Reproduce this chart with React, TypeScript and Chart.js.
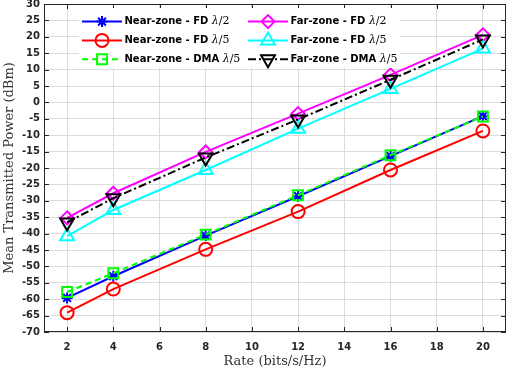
import React, { useEffect, useRef } from 'react';
import { Chart, registerables } from 'chart.js';

Chart.register(...registerables);

// ---- data ----
const rates = [2, 4, 8, 12, 16, 20];
const nearFDHalf = [-59.6, -53, -40.6, -28.6, -16.4, -4.2];
const nearFDFifth = [-64.1, -56.9, -44.8, -33.3, -20.6, -8.7];
const nearDMAFifth = [-57.8, -52.1, -40.3, -28.3, -16.1, -4.3];
const farFDHalf = [-35.2, -27.7, -15.1, -3.4, 8.4, 20.6];
const farFDFifth = [-40.8, -32.8, -20.6, -8.0, 4.1, 16.4];
const farDMAFifth = [-36.6, -29.2, -16.8, -5.2, 6.9, 19.2];

const xTicks = [2, 4, 6, 8, 10, 12, 14, 16, 18, 20];
const yTicks = [-70, -65, -60, -55, -50, -45, -40, -35, -30, -25, -20, -15, -10, -5, 0, 5, 10, 15, 20, 25, 30];

const seriesNames = ['Near-zone - FD', 'Near-zone - FD', 'Near-zone - DMA', 'Far-zone - FD', 'Far-zone - FD', 'Far-zone - DMA'];
const seriesSpacing = ['/2', '/5', '/5', '/2', '/5', '/5'];
const seriesValues = [nearFDHalf, nearFDFifth, nearDMAFifth, farFDHalf, farFDFifth, farDMAFifth];

const xTitle = 'Rate (bits/s/Hz)';
const yTitle = 'Mean Transmitted Power (dBm)';

// ---- styles ----
const styles = [
  { color: '#0000ff', point: 'star', r: 5.5, dash: [] as number[], rot: 0 },
  { color: '#ff0000', point: 'circle', r: 6.5, dash: [] as number[], rot: 0 },
  { color: '#00ff00', point: 'rect', r: 7, dash: [6, 4], rot: 0 },
  { color: '#ff00ff', point: 'rectRot', r: 6.5, dash: [] as number[], rot: 0 },
  { color: '#00ffff', point: 'triangle', r: 8, dash: [] as number[], rot: 0 },
  { color: '#000000', point: 'triangle', r: 8, dash: [8, 3, 2, 3], rot: 180 },
];

const AXIS = '#262626';
const TICK_FONT = { family: '"DejaVu Sans"', weight: 'bold' as const, size: 10 };
const TITLE_FONT = { family: '"DejaVu Serif"', size: 13 };
const AREA = { left: 44, top: 4, right: 506, bottom: 332 };
const CANVAS_W = 508;
const CANVAS_H = 372;

function drawMarker(ctx: CanvasRenderingContext2D, style: string, x: number, y: number, r: number, rot: number) {
  ctx.beginPath();
  switch (style) {
    case 'circle':
      ctx.arc(x, y, r, 0, Math.PI * 2);
      break;
    case 'rect': {
      const s = r * Math.SQRT1_2;
      ctx.rect(x - s, y - s, 2 * s, 2 * s);
      break;
    }
    case 'rectRot':
      ctx.moveTo(x, y - r);
      ctx.lineTo(x + r, y);
      ctx.lineTo(x, y + r);
      ctx.lineTo(x - r, y);
      ctx.closePath();
      break;
    case 'triangle': {
      let a = (rot * Math.PI) / 180;
      for (let i = 0; i < 3; i++) {
        const px = x + Math.sin(a) * r;
        const py = y - Math.cos(a) * r;
        if (i === 0) ctx.moveTo(px, py);
        else ctx.lineTo(px, py);
        a += (2 * Math.PI) / 3;
      }
      ctx.closePath();
      break;
    }
    case 'star':
      for (let k = 0; k < 4; k++) {
        const a = (k * Math.PI) / 4;
        ctx.moveTo(x - Math.cos(a) * r, y - Math.sin(a) * r);
        ctx.lineTo(x + Math.cos(a) * r, y + Math.sin(a) * r);
      }
      break;
  }
  ctx.stroke();
}

// force the MATLAB-like axes box position
const areaPlugin = {
  id: 'fixedArea',
  afterLayout(chart: any) {
    const a = AREA;
    chart.chartArea = { left: a.left, top: a.top, right: a.right, bottom: a.bottom, width: a.right - a.left, height: a.bottom - a.top };
    const x = chart.scales.x;
    x.left = a.left; x.right = a.right; x.width = a.right - a.left;
    x.top = a.bottom; x.bottom = CANVAS_H; x.height = CANVAS_H - a.bottom;
    x.configure();
    const y = chart.scales.y;
    y.left = 0; y.right = a.left; y.width = a.left;
    y.top = a.top; y.bottom = a.bottom; y.height = a.bottom - a.top;
    y.configure();
  },
};

const framePlugin = {
  id: 'frame',
  beforeDatasetsDraw(chart: any) {
    const { ctx, chartArea: a, scales } = chart;
    const x = scales.x;
    const y = scales.y;
    const tl = 5;
    ctx.save();
    ctx.strokeStyle = AXIS;
    ctx.lineWidth = 1;
    ctx.setLineDash([]);
    ctx.beginPath();
    for (const v of xTicks) {
      const px = Math.round(x.getPixelForValue(v)) + 0.5;
      ctx.moveTo(px, a.bottom);
      ctx.lineTo(px, a.bottom - tl);
      ctx.moveTo(px, a.top);
      ctx.lineTo(px, a.top + tl);
    }
    for (const v of yTicks) {
      const py = Math.round(y.getPixelForValue(v)) + 0.5;
      ctx.moveTo(a.left, py);
      ctx.lineTo(a.left + tl, py);
      ctx.moveTo(a.right, py);
      ctx.lineTo(a.right - tl, py);
    }
    ctx.stroke();
    ctx.strokeRect(a.left + 0.5, a.top + 0.5, a.right - a.left - 1, a.bottom - a.top - 1);
    ctx.restore();
  },
};

const legendPlugin = {
  id: 'matLegend',
  afterDatasetsDraw(chart: any) {
    const { ctx } = chart;
    ctx.save();
    ctx.fillStyle = '#ffffff';
    ctx.fillRect(79, 8, 321, 60);
    const rowsY = [21.6, 40.4, 59.2];
    const colLineX = [82, 248];
    const lineLen = 40;
    for (let i = 0; i < 6; i++) {
      const col = i < 3 ? 0 : 1;
      const row = i % 3;
      const st = styles[i];
      const yy = rowsY[row];
      const x0 = colLineX[col];
      ctx.strokeStyle = st.color;
      ctx.lineWidth = 2;
      ctx.setLineDash(st.dash);
      ctx.beginPath();
      ctx.moveTo(x0, yy);
      ctx.lineTo(x0 + lineLen, yy);
      ctx.stroke();
      ctx.setLineDash([]);
      drawMarker(ctx, st.point, x0 + lineLen / 2, yy, st.r, st.rot);
      let tx = x0 + lineLen + 2.5;
      ctx.fillStyle = '#000000';
      ctx.textBaseline = 'middle';
      ctx.textAlign = 'left';
      ctx.font = 'bold 10px "DejaVu Sans"';
      const name = seriesNames[i] + ' ';
      ctx.fillText(name, tx, yy);
      tx += ctx.measureText(name).width;
      ctx.font = 'italic 11px "DejaVu Serif"';
      ctx.fillText('\u03bb', tx, yy);
      tx += ctx.measureText('\u03bb').width;
      ctx.font = '11px "DejaVu Serif"';
      ctx.fillText(seriesSpacing[i], tx, yy);
    }
    ctx.restore();
  },
};

export default function App() {
  const ref = useRef<HTMLCanvasElement>(null);
  useEffect(() => {
    document.body.style.margin = '0';
    const datasets = seriesValues.map((vals, i) => {
      const st = styles[i];
      return {
        label: seriesNames[i] + ' \u03bb' + seriesSpacing[i],
        data: rates.map((r, k) => ({ x: r, y: vals[k] })),
        borderColor: st.color,
        backgroundColor: 'rgba(0,0,0,0)',
        borderWidth: 2,
        borderDash: st.dash,
        pointStyle: st.point,
        pointRadius: st.r,
        pointHoverRadius: st.r,
        pointBorderWidth: 2,
        pointBorderColor: st.color,
        pointBackgroundColor: 'rgba(0,0,0,0)',
        pointRotation: st.rot,
        tension: 0,
        fill: false,
        clip: false as any,
        order: 6 - i,
      };
    });
    const chart = new Chart(ref.current!, {
      type: 'line',
      data: { datasets: datasets as any },
      options: {
        animation: false,
        responsive: false,
        devicePixelRatio: 1,
        events: [],
        layout: { padding: { top: 4, right: 2, left: 0, bottom: 0 } },
        plugins: { legend: { display: false }, tooltip: { enabled: false } },
        scales: {
          x: {
            type: 'linear',
            min: 1,
            max: 21,
            afterBuildTicks: (s: any) => {
              s.ticks = xTicks.map((v) => ({ value: v }));
            },
            afterFit: (s: any) => {
              s.height = 40;
            },
            grid: { color: '#dcdcdc', lineWidth: 1, drawTicks: false },
            border: { display: false },
            ticks: { color: AXIS, font: TICK_FONT, padding: 9, maxRotation: 0, autoSkip: false },
            title: { display: true, text: xTitle, color: '#333333', font: TITLE_FONT, padding: { top: 0, bottom: 3 } },
          },
          y: {
            type: 'linear',
            min: -70,
            max: 30,
            afterBuildTicks: (s: any) => {
              s.ticks = yTicks.map((v) => ({ value: v }));
            },
            afterFit: (s: any) => {
              s.width = 44;
            },
            grid: { color: '#dcdcdc', lineWidth: 1, drawTicks: false },
            border: { display: false },
            ticks: { color: AXIS, font: TICK_FONT, padding: 4, autoSkip: false },
            title: { display: true, text: yTitle, color: '#333333', font: TITLE_FONT, padding: { top: 1.5, bottom: 0 } },
          },
        },
      },
      plugins: [areaPlugin, framePlugin, legendPlugin],
    });
    return () => chart.destroy();
  }, []);
  return (
    <div style={{ position: 'absolute', left: 0, top: 0, width: CANVAS_W, height: CANVAS_H, background: '#ffffff' }}>
      <canvas ref={ref} width={CANVAS_W} height={CANVAS_H} style={{ display: 'block', width: CANVAS_W, height: CANVAS_H }} />
    </div>
  );
}
